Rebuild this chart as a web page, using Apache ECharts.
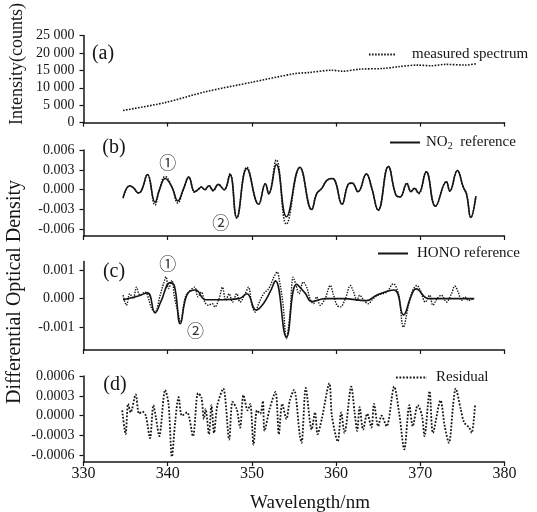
<!DOCTYPE html>
<html>
<head>
<meta charset="utf-8">
<script src="https://cdn.jsdelivr.net/npm/echarts@6/dist/echarts.min.js"></script>
<style>html,body{margin:0;padding:0;background:#fff;}#c{width:537px;height:512px;}</style>
</head>
<body>
<div id="c"></div>
<script>
// ---------- data ----------
// (a) measured spectrum (counts)
const specWl  = [334.7, 339.6, 344.5, 350.0, 355.1, 356.7, 359.5, 360.8, 362.8, 365.6, 367.3, 369.7, 371.3, 373.0, 375.4, 376.6];
const specVal = [3500, 5700, 8860, 11600, 14070, 14370, 15050, 14760, 15350, 15550, 16040, 16530, 16330, 16730, 16530, 16930];

// (b) NO2 reference (solid) and measured (dotted)
const no2Wl = [334.7, 335.5, 336.0, 336.5, 336.9, 337.6, 338.5, 339.0, 339.7, 340.5, 341.2, 341.9, 342.5, 343.2, 343.6, 344.0, 344.4, 344.9, 345.4, 346.0, 346.7, 347.4, 348.2, 349.4, 350.8, 351.6, 352.0, 352.9, 354.1, 355.7, 357.1, 357.7, 358.3, 358.9, 359.5, 359.9, 360.7, 361.5, 361.9, 362.6, 363.6, 364.2, 365.0, 366.2, 367.1, 367.6, 368.4, 368.9, 369.3, 369.8, 370.7, 371.8, 373.1, 373.5, 374.4, 375.1, 375.5, 376.0, 376.6];
const no2Ref = [-0.0012, 0.0006, 0.0002, -0.0005, -0.0001, 0.0023, -0.0019, -0.0001, 0.0017, 0.0004, -0.0017, 0.0002, 0.0019, -0.0003, 0.0000, 0.0004, 0.0000, 0.0006, -0.0001, 0.0008, 0.0000, 0.0023, -0.0042, 0.0032, -0.0022, 0.0009, -0.0006, 0.0038, -0.0041, 0.0034, -0.0030, -0.0006, 0.0002, 0.0014, 0.0017, 0.0013, -0.0022, 0.0009, 0.0010, -0.0003, 0.0024, 0.0004, -0.0031, 0.0035, -0.0008, -0.0011, 0.0009, -0.0003, 0.0002, -0.0005, 0.0027, -0.0025, 0.0012, -0.0002, 0.0029, 0.0004, -0.0007, -0.0042, -0.0010];
const no2Meas = [-0.0013, 0.0006, 0.0002, -0.0005, -0.0001, 0.0023, -0.0023, -0.0001, 0.0020, 0.0004, -0.0020, 0.0002, 0.0019, -0.0004, 0.0000, 0.0004, 0.0000, 0.0006, -0.0002, 0.0008, 0.0000, 0.0024, -0.0043, 0.0034, -0.0022, 0.0009, -0.0006, 0.0045, -0.0052, 0.0033, -0.0030, -0.0006, 0.0002, 0.0014, 0.0017, 0.0013, -0.0022, 0.0009, 0.0010, -0.0003, 0.0023, 0.0004, -0.0031, 0.0035, -0.0008, -0.0011, 0.0010, -0.0002, 0.0002, -0.0006, 0.0027, -0.0025, 0.0012, -0.0002, 0.0029, 0.0004, -0.0007, -0.0042, -0.0010];

// (c) HONO reference (solid) and measured (dotted)
const honoWl  = [334.7, 336.4, 337.6, 338.5, 339.2, 340.3, 340.8, 341.5, 342.3, 343.3, 344.5, 346.5, 348.5, 349.4, 350.5, 351.4, 352.2, 352.8, 354.1, 355.3, 356.3, 357.1, 358.7, 360.8, 363.6, 364.8, 366.9, 368.0, 368.9, 369.5, 371.0, 376.4];
const honoRef = [-0.00004, 0.00008, 0.0002, -0.0005, -0.0001, 0.00056, 0.00044, -0.00088, 0.00014, 0.0003, -0.00004, -0.00004, 0, 0.00017, -0.0004, -0.00016, 0.00026, 0.00062, -0.00135, 0.0005, 0.0002, -0.0001, 0, 0, -0.00007, 0.00012, 0.0003, -0.00057, 0.00008, 0.00034, 0, 0];
const honoMeasWl = [334.7, 335.1, 335.5, 335.9, 336.3, 336.7, 337.3, 338.1, 338.5, 339.1, 339.5, 339.8, 340.1, 340.5, 340.8, 341.3, 341.5, 342.1, 342.7, 343.2, 343.6, 344.0, 344.4, 344.8, 345.3, 345.6, 346.1, 346.5, 346.9, 347.3, 347.7, 348.2, 348.6, 349.2, 349.6, 350.0, 350.4, 350.8, 351.4, 352.0, 352.7, 353.0, 353.3, 353.7, 354.1, 354.5, 354.9, 355.2, 355.6, 356.1, 356.5, 356.9, 357.3, 357.7, 358.1, 358.7, 359.3, 359.7, 360.1, 360.5, 361.1, 361.7, 362.0, 362.5, 362.8, 363.3, 363.8, 364.4, 365.0, 366.0, 366.8, 367.4, 368.0, 368.6, 369.1, 369.6, 370.0, 370.6, 371.1, 371.5, 372.0, 372.5, 373.1, 373.7, 374.1, 374.5, 374.9, 375.3, 375.7, 376.4];
const honoMeas = [0.00012, -0.00023, 0.00017, 0, 0.0004, 0.00012, 0.00023, -0.00035, -0.00047, 0.00012, 0.00052, 0.00076, 0.00035, 0.00064, 0.00006, -0.00058, -0.00082, 0.00006, 0.00029, 0.0004, 0.00006, 0.00023, -0.00012, -0.00023, -0.00018, -0.00029, 0, 0.0004, -0.00006, 0.00017, -0.00012, 0.00017, -0.00012, 0.00017, 0.0004, -0.00023, -0.00047, -0.00018, 0.00017, 0.00035, 0.00081, 0.00093, 0.00058, -0.0002, -0.0014, -0.0006, 0.00075, 0.00052, 0.00017, 0.00058, 0.0004, 0, -0.00018, 0.00006, -0.00023, 0, 0.00046, 0.00012, -0.00023, -0.00029, 0, 0.00046, 0.00029, -0.00006, 0.00012, -0.00006, -0.00018, 0, 0.00012, 0.00023, 0.00052, 0.00017, -0.001, -0.00023, 0.00029, 0.00046, 0.00029, -0.00012, 0.00012, -0.00023, 0, 0.00012, -0.00012, 0.00017, 0.00044, 0.00023, -0.00006, 0.00006, -0.00006, 0];

// (d) residual
const resWl = [334.6, 335.0, 335.3, 335.6, 336.2, 336.6, 337.0, 337.4, 337.9, 338.3, 338.6, 339.0, 339.7, 340.1, 340.5, 340.9, 341.3, 341.7, 342.3, 343.0, 343.6, 344.0, 344.3, 344.5, 344.9, 345.2, 345.5, 345.9, 346.6, 347.3, 347.7, 348.2, 348.6, 349.0, 349.5, 349.8, 350.2, 350.6, 351.0, 351.3, 351.5, 352.1, 352.8, 353.2, 353.6, 354.1, 354.5, 355.0, 355.7, 355.9, 356.4, 357.1, 357.5, 357.8, 358.3, 359.2, 359.5, 360.2, 360.6, 361.0, 361.8, 362.2, 362.5, 362.8, 363.2, 363.7, 364.2, 364.5, 365.0, 365.4, 366.0, 366.9, 367.5, 368.1, 368.7, 369.1, 369.7, 370.2, 370.5, 371.1, 371.5, 372.4, 372.9, 373.4, 373.9, 374.2, 374.8, 375.2, 375.8, 376.1, 376.5];
const resVal = [0.00008, -0.00028, 0.00018, 0.00005, 0.00032, 0.00003, 0.00006, 0, -0.00034, 0.00016, -0.00003, -0.00031, 0.00039, 0.00018, -0.00062, -0.00008, 0.00028, 0, 0.00005, -0.00031, 0.00034, 0.00028, -0.00005, 0.0001, -0.00028, 0.00016, -0.00026, 0.00016, 0.00041, -0.00036, 0.00021, 0.0001, -0.00018, 0.00031, 0.00008, 0.00018, -0.00044, 0.00008, 0.00003, 0.00022, -0.00023, 0.0001, 0.00036, -0.00028, 0.00018, -0.00005, 0.00023, 0.00039, -0.00031, -0.00041, 0.00042, -0.00021, 0.00005, -0.00028, -0.00005, 0.00049, 0, -0.00039, 0.00005, -0.00026, 0.00044, 0.00005, -0.00023, 0.00013, -0.00021, 0.00003, -0.00018, 0.00018, -0.00016, 0, -0.00016, 0.00044, 0.00003, -0.00051, 0.00016, -0.00016, 0.00016, 0, -0.00031, 0.00037, -0.00026, 0.00023, -0.00016, -0.00041, 0.00016, 0.00041, 0.0001, -0.0001, -0.00018, -0.00026, 0.00016];

// tick labels
const xTicks = [330, 340, 350, 360, 370, 380];
const yTicksA = [0, 5000, 10000, 15000, 20000, 25000];
const yTicksB = [-0.006, -0.003, 0, 0.003, 0.006];
const yTicksC = [-0.001, 0, 0.001];
const yTicksD = [-0.0006, -0.0003, 0, 0.0003, 0.0006];

// ---------- chart ----------
const FONT = 'Liberation Serif';
const INK = '#151515';
const zip = (xs, ys) => xs.map((x, i) => [x, ys[i]]);

const chart = echarts.init(document.getElementById('c'), null, {renderer: 'canvas'});

const grids = [
  {left: 83.5, width: 421, top: 35.6, height: 87},
  {left: 83.5, width: 421, top: 150, height: 86},
  {left: 83.5, width: 421, top: 261.5, height: 88.5},
  {left: 83.5, width: 421, top: 376, height: 86}
];

const xAxes = grids.map((g, i) => ({
  type: 'value', gridIndex: i, min: xTicks[0], max: xTicks[xTicks.length - 1], interval: 10,
  axisLine: {show: true, onZero: false, lineStyle: {color: INK, width: 1.5}},
  axisTick: {show: true, inside: false, length: 4, lineStyle: {color: INK, width: 1.2}},
  axisLabel: {show: i === 3, margin: 4, fontFamily: FONT, fontSize: 16, color: INK},
  splitLine: {show: false}
}));

function yAxis(i, min, max, ticks, fmt) {
  return {
    type: 'value', gridIndex: i, min: min, max: max,
    axisLine: {show: true, onZero: false, lineStyle: {color: INK, width: 1.5}},
    axisTick: {show: true, inside: false, length: 4, lineStyle: {color: INK, width: 1.2}, customValues: ticks},
    axisLabel: {show: true, margin: 9, fontFamily: FONT, fontSize: 14, color: INK, customValues: ticks, formatter: fmt},
    splitLine: {show: false}
  };
}
const fmtA = v => v === 0 ? '0' : String(v).replace(/\B(?=(\d{3})+(?!\d))/g, ' ');
const yAxes = [
  yAxis(0, 0, 25000, yTicksA, fmtA),
  yAxis(1, -0.007, 0.006, yTicksB, v => (Math.abs(v) < 1e-12 ? 0 : v).toFixed(3)),
  yAxis(2, -0.0018, 0.0013, yTicksC, v => (Math.abs(v) < 1e-12 ? 0 : v).toFixed(3)),
  yAxis(3, -0.0007, 0.0006, yTicksD, v => (Math.abs(v) < 1e-12 ? 0 : v).toFixed(4))
];

const dotted = (w) => ({color: INK, width: w, type: [w, w * 0.9]});
const solid = {color: INK, width: 1.6, type: 'solid'};
const annLabel = {show: true, position: 'inside', formatter: '{b}', fontFamily: 'Noto Sans CJK SC', fontSize: 17, color: '#333'};
const annCommon = {symbol: 'circle', symbolSize: 1, itemStyle: {color: 'rgba(0,0,0,0)'}, label: annLabel, silent: true, animation: false};

const series = [
  {name: 'measured spectrum', type: 'line', xAxisIndex: 0, yAxisIndex: 0, data: zip(specWl, specVal),
   symbol: 'none', smooth: 0.3, lineStyle: dotted(1.6), itemStyle: {color: INK}},
  {name: 'NO2 measured', type: 'line', xAxisIndex: 1, yAxisIndex: 1, data: zip(no2Wl, no2Meas),
   symbol: 'none', smooth: 0.45, lineStyle: dotted(1.5), itemStyle: {color: INK}},
  {name: 'NO2 reference', type: 'line', xAxisIndex: 1, yAxisIndex: 1, data: zip(no2Wl, no2Ref),
   symbol: 'none', smooth: 0.45, lineStyle: solid, itemStyle: {color: INK},
   markPoint: Object.assign({data: [{name: '①', coord: [340.0, 0.0041]}, {name: '②', coord: [346.3, -0.0050]}]}, annCommon)},
  {name: 'HONO measured', type: 'line', xAxisIndex: 2, yAxisIndex: 2, data: zip(honoMeasWl, honoMeas),
   symbol: 'none', smooth: 0.35, lineStyle: dotted(1.4), itemStyle: {color: INK}},
  {name: 'HONO reference', type: 'line', xAxisIndex: 2, yAxisIndex: 2, data: zip(honoWl, honoRef),
   symbol: 'none', smooth: 0.45, lineStyle: solid, itemStyle: {color: INK},
   markPoint: Object.assign({data: [{name: '①', coord: [340.0, 0.00122]}, {name: '②', coord: [343.3, -0.00112]}]}, annCommon)},
  {name: 'Residual', type: 'line', xAxisIndex: 3, yAxisIndex: 3, data: zip(resWl, resVal),
   symbol: 'none', smooth: 0.3, lineStyle: dotted(1.8), itemStyle: {color: INK}}
];

function legend(name, left, top, iw, padLeft) {
  return {
    data: [name], left: left, top: top, padding: 0, itemWidth: iw, itemHeight: 14,
    selectedMode: false,
    itemStyle: {color: 'rgba(0,0,0,0)', borderWidth: 0, opacity: 0},
    textStyle: {fontFamily: FONT, fontSize: 15, color: INK, padding: [0, 0, 0, padLeft],
      rich: {sub: {fontFamily: FONT, fontSize: 10, color: INK, padding: [7, 0, 0, 0]}}},
    formatter: n => n === 'NO2 reference' ? 'NO{sub|2}  reference' : n
  };
}

const serifText = (txt, x, y, size, rot) => ({
  type: 'text', x: x, y: y, rotation: rot || 0, silent: true,
  style: {text: txt, fill: INK, font: size + 'px "' + FONT + '"', textAlign: 'center', textVerticalAlign: 'middle'}
});

chart.setOption({
  animation: false,
  backgroundColor: '#fff',
  grid: grids,
  xAxis: xAxes,
  yAxis: yAxes,
  series: series,
  legend: [
    legend('measured spectrum', 368, 47, 26, 12),
    legend('NO2 reference', 389, 135, 30, 1),
    legend('HONO reference', 377, 246, 30, 4),
    legend('Residual', 395, 370, 31, 4)
  ],
  graphic: [
    serifText('(a)', 103, 54, 20),
    serifText('(b)', 114, 148, 20),
    serifText('(c)', 114, 272, 20),
    serifText('(d)', 115, 385, 20),
    serifText('Intensity(counts)', 17, 64, 18, Math.PI / 2),
    serifText('Differential Optical Density', 15, 292, 20, Math.PI / 2),
    serifText('Wavelength/nm', 310, 503, 19)
  ]
});
</script>
</body>
</html>
